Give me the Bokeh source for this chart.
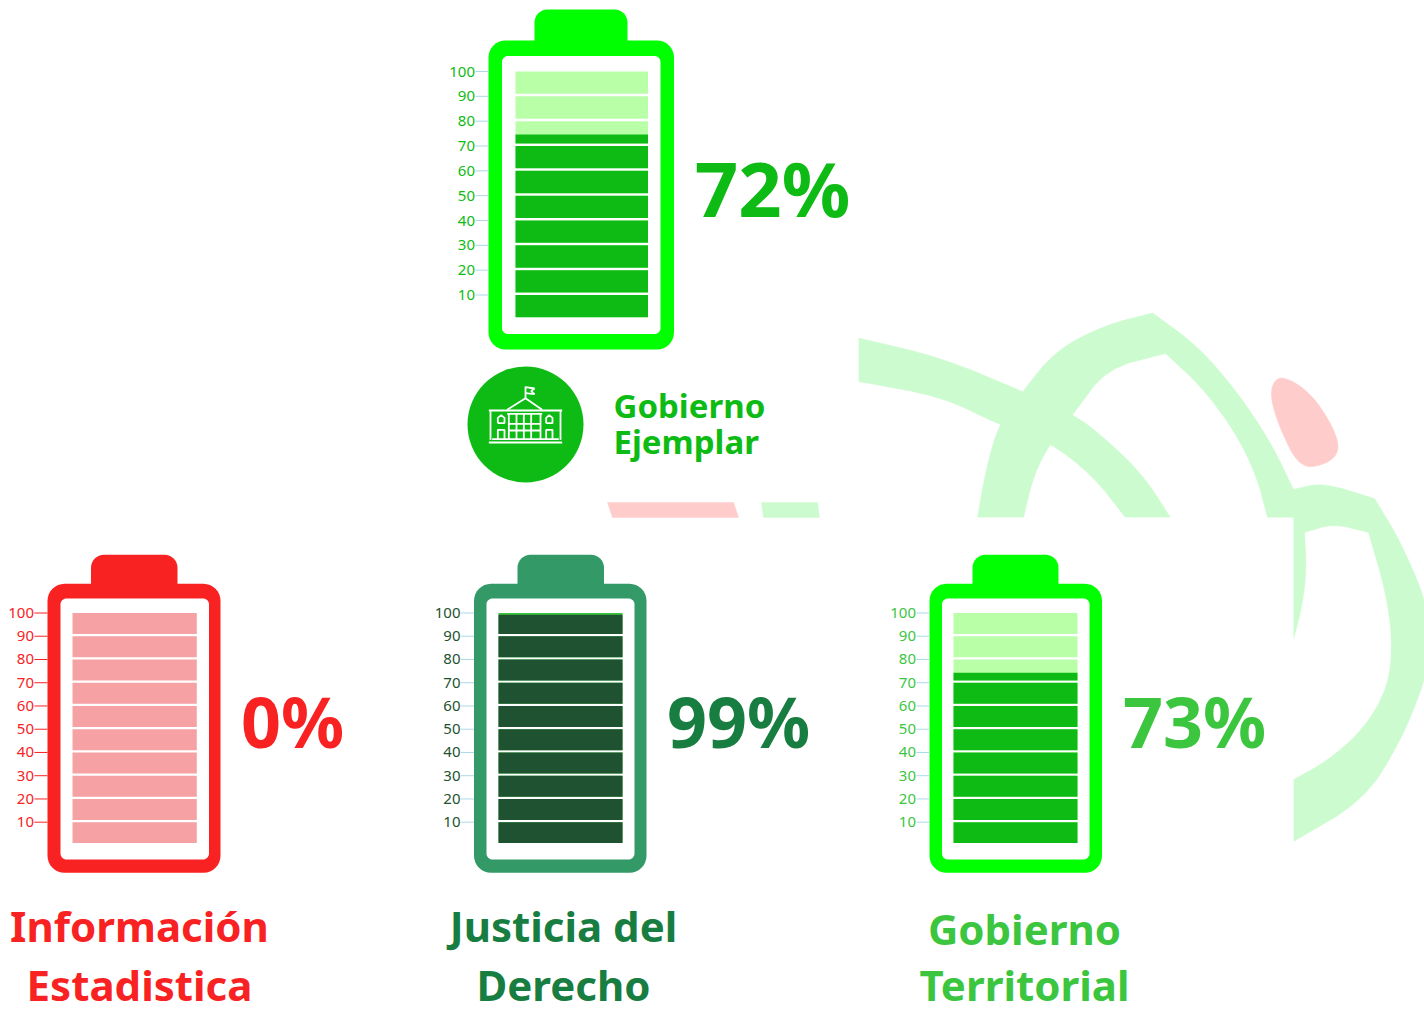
from bokeh.plotting import figure
from bokeh.embed import file_html
from bokeh.resources import INLINE
from bokeh.models import Range1d
from bokeh.core.properties import value
import math

# ---------- data ----------
sections = ["Gobierno Ejemplar", "Información Estadistica", "Justicia del Derecho", "Gobierno Territorial"]
percent_labels = ["72%", "0%", "99%", "73%"]
gauge_levels = [74.6, 0, 99.2, 74.3]
tick_values = [10, 20, 30, 40, 50, 60, 70, 80, 90, 100]
cell_floor = [0, 10, 20, 30, 40, 50, 60, 70, 80, 90]
cell_ceil = [10, 20, 30, 40, 50, 60, 70, 80, 90, 100]

# ---------- styles ----------
shell_colors = ["#00FF00", "#F92222", "#339966", "#00FF00"]
fill_colors = ["#0DBB14", "#F92222", "#1E5230", "#0DBB14"]
empty_colors = ["#B8FFA8", "#F6A1A4", "#3CC63F", "#B8FFA8"]
text_colors = ["#0DBB14", "#F92222", "#187D40", "#3CC63F"]
tick_colors = ["#ADD8E6", "#F92222", "#ADD8E6", "#ADD8E6"]
label_colors = ["#0DBB14", "#F92222", "#1E5230", "#3CC63F"]
title_colors = [None, "#F92222", "#187D40", "#3CC63F"]

FONT = "Noto Sans"
W, H = 1424, 1013

p = figure(width=W, height=H, output_backend="svg", toolbar_location=None,
           x_range=Range1d(0, W), y_range=Range1d(H, 0),
           min_border=0, outline_line_color=None)
p.axis.visible = False
p.grid.visible = False
p.background_fill_color = "#FFFFFF"
p.border_fill_color = "#FFFFFF"


def chaikin(pts, n=3, closed=True):
    for _ in range(n):
        out = [pts[0]] if not closed else []
        m = len(pts) if closed else len(pts) - 1
        for i in range(m):
            a, b = pts[i], pts[(i + 1) % len(pts)]
            out.append((0.75 * a[0] + 0.25 * b[0], 0.75 * a[1] + 0.25 * b[1]))
            out.append((0.25 * a[0] + 0.75 * b[0], 0.25 * a[1] + 0.75 * b[1]))
        if not closed:
            out.append(pts[-1])
        pts = out
    return pts


def poly(pts, color):
    p.patch([q[0] for q in pts], [q[1] for q in pts], fill_color=color, line_color=color, line_width=0.5)


def round_rect(l, t, r, b, rt, rb, color):
    xs, ys = [], []
    corners = [(r - rt, t + rt, rt, -90, 0), (r - rb, b - rb, rb, 0, 90),
               (l + rb, b - rb, rb, 90, 180), (l + rt, t + rt, rt, 180, 270)]
    for cx, cy, rad, a0, a1 in corners:
        for k in range(9):
            a = math.radians(a0 + (a1 - a0) * k / 8)
            xs.append(cx + rad * math.cos(a))
            ys.append(cy + rad * math.sin(a))
    p.patch(xs, ys, fill_color=color, line_color=None)


def chain(*pieces):
    """Smooth each piece but keep the sharp corners where two pieces meet."""
    out = []
    for piece in pieces:
        out += chaikin(piece, 2, False)
    return out


# ---------- background emblem ----------
PALE_GREEN, PALE_RED = "#CCFBCF", "#FFCCCC"
poly(chain([(858, 337.5), (941, 357), (1022, 391), (1073, 413.5), (1106, 439), (1143, 475), (1170, 517)],
           [(1125, 517), (1092, 475), (1050, 442), (998, 424), (941, 396), (858, 381)]), PALE_GREEN)
poly(chain(
    [(977, 517), (985, 471), (998, 424), (1022, 391), (1055, 350), (1103, 325), (1152, 312.5)],
    [(1152, 312.5), (1198, 346), (1238, 393), (1271, 443), (1293, 489)],
    [(1293, 489), (1322, 482), (1374, 498)],
    [(1374, 498), (1399, 539), (1424, 596), (1432, 640), (1424, 682), (1399, 743), (1363, 800), (1293, 841)],
    [(1293, 779), (1326, 761), (1363, 729), (1388, 686), (1392, 639), (1385, 590), (1368, 532)],
    [(1368, 532), (1333, 523), (1304, 532)],
    [(1304, 532), (1306, 568), (1302, 604), (1293, 639)],
    [(1267, 517), (1256, 475), (1235, 432), (1201, 386), (1165, 353)],
    [(1165, 353), (1106, 368), (1073, 413.5), (1050, 442), (1033, 475), (1023, 517)],
), PALE_GREEN)
poly(chaikin([(1269, 393), (1276, 376), (1292, 380), (1312, 395), (1332, 425), (1340, 450), (1326, 464),
              (1299, 468), (1278, 425)]), PALE_RED)
# white panels that hide the emblem
p.quad(left=[0, 0], right=[858, 1293], top=[0, 517], bottom=[502, H], fill_color="#FFFFFF", line_color=None)
poly([(607, 502), (733, 502), (738, 517), (612, 517)], PALE_RED)
poly([(761, 502), (817, 502), (819, 517), (763, 517)], PALE_GREEN)

# ---------- batteries ----------
geoms = [
    dict(cap=(534, 627), top=9, outer=(488, 673.5, 40, 349), inner=(501.5, 660, 55.5, 333.5),
         cell=(515, 647.5), y100=71, y10=294.5, pct=(772, 187), size=76),
    dict(cap=(90.5, 177), top=554.3, outer=(47, 220, 583.3, 872.3), inner=(60, 208.5, 598, 859),
         cell=(72, 196.3), y100=612.5, y10=821.7, pct=(292, 720), size=70),
    dict(cap=(517, 603.5), top=554.3, outer=(473.5, 646, 583.3, 872.3), inner=(486, 634, 598, 859),
         cell=(498, 622), y100=612.5, y10=821.7, pct=(738, 720), size=70),
    dict(cap=(972, 1058), top=554.3, outer=(929, 1101.5, 583.3, 872.3), inner=(941.5, 1089, 598, 859),
         cell=(953, 1077), y100=612.5, y10=821.7, pct=(1194, 720), size=70),
]

for i, g in enumerate(geoms):
    k = (g["y10"] - g["y100"]) / 90.0
    y0 = g["y100"] + 100 * k
    rn = f"battery{i}"
    p.extra_y_ranges[rn] = Range1d((y0 - H) / k, y0 / k)

    l, r, t, b = g["outer"]
    round_rect(g["cap"][0], g["top"], g["cap"][1], t + 10, 13, 0, shell_colors[i])
    round_rect(l, t, r, b, 17, 17, shell_colors[i])
    il, ir, it, ib = g["inner"]
    round_rect(il, it, ir, ib, 6, 6, "#FFFFFF")

    cl, cr = g["cell"]
    p.segment(x0=[l - 13] * len(tick_values), x1=[l] * len(tick_values), y0=tick_values, y1=tick_values,
              line_color=tick_colors[i], line_width=1, y_range_name=rn)
    p.text(x=[l - 13.5] * len(tick_values), y=tick_values, text=[str(v) for v in tick_values],
           text_font=value(FONT), text_font_size="15px", text_color=label_colors[i],
           text_align="right", text_baseline="middle", y_range_name=rn)
    bottoms = [v + 1 for v in cell_floor]
    p.quad(left=cl, right=cr, bottom=bottoms, top=cell_ceil, fill_color=empty_colors[i], line_color=None,
           y_range_name=rn)
    lv = gauge_levels[i]
    fb = [b_ for b_ in bottoms if b_ < lv]
    ft = [min(c, lv) for b_, c in zip(bottoms, cell_ceil) if b_ < lv]
    if fb:
        p.quad(left=cl, right=cr, bottom=fb, top=ft, fill_color=fill_colors[i], line_color=None, y_range_name=rn)
    p.text(x=[g["pct"][0]], y=[g["pct"][1]], text=[percent_labels[i]], text_font=value(FONT),
           text_font_style="bold", text_font_size=f'{g["size"]}px', text_color=text_colors[i],
           text_align="center", text_baseline="middle")

# ---------- section titles ----------
title_lines = [None, ("Información", "Estadistica"), ("Justicia del", "Derecho"), ("Gobierno", "Territorial")]
title_pos = [None, (139, 925, 984), (563, 925, 984), (1024, 928, 984)]
for i in (1, 2, 3):
    a, b = title_lines[i]
    x, y1, y2 = title_pos[i]
    p.text(x=[x, x], y=[y1, y2], text=[a, b], text_font=value(FONT), text_font_style="bold",
           text_font_size="42px", text_color=title_colors[i], text_align="center", text_baseline="middle")

# ---------- Gobierno Ejemplar badge ----------
BADGE = "#0DBB14"
cx, cy = 525, 424
p.circle(x=[cx], y=[cy], radius=58, fill_color=BADGE, line_color=None)
icon_lines = [
    [(200, 178), (255, 143), (305, 178)], [(255, 143), (255, 108)], [(255, 110), (282, 114), (272, 122), (282, 131), (255, 128)],
    [(145, 180), (365, 180)], [(200, 190), (305, 190)], [(150, 182), (150, 268)], [(360, 182), (360, 268)],
    [(145, 276), (365, 276)], [(155, 266), (355, 266)], [(205, 190), (205, 266)], [(228, 190), (228, 266)],
    [(250, 190), (250, 266)], [(272, 190), (272, 266)], [(300, 190), (300, 266)], [(205, 220), (300, 220)],
    [(205, 240), (300, 240)], [(172, 218), (172, 202), (182, 194), (192, 202), (192, 218), (172, 218)],
    [(317, 218), (317, 202), (326, 194), (336, 202), (336, 218), (317, 218)],
    [(172, 266), (172, 238), (192, 238), (192, 266)], [(317, 266), (317, 238), (336, 238), (336, 266)],
]
p.multi_line([[440 + q[0] / 3 for q in ln] for ln in icon_lines], [[350 + q[1] / 3 for q in ln] for ln in icon_lines],
             line_color="#FFFFFF", line_width=1.8)
a, b = sections[0].split(" ")
p.text(x=[613, 613], y=[405, 441], text=[a, b], text_font=value(FONT), text_font_style="bold",
       text_font_size="33px", text_color="#0DBB14", text_align="left", text_baseline="middle")

open("out.html", "w").write(file_html(p, INLINE))
